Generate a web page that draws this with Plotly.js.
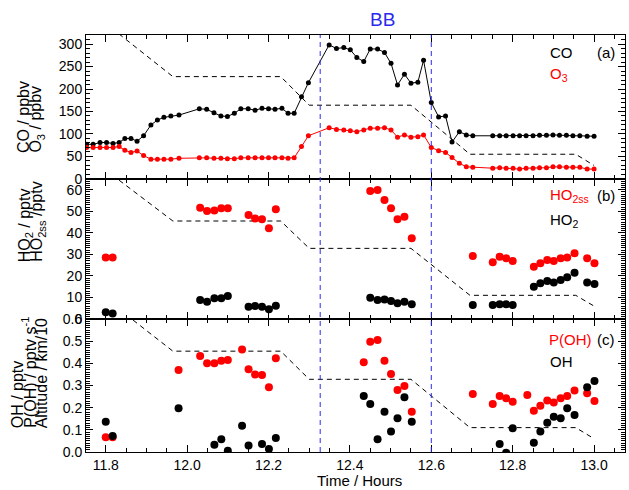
<!DOCTYPE html>
<html>
<head>
<meta charset="utf-8">
<script src="https://cdn.plot.ly/plotly-3.0.1.min.js"></script>
<style>html,body{margin:0;padding:0;background:#fff;}#chart{width:629px;height:490px;}</style>
</head>
<body>
<div id="chart"></div>
<script>
// ---- Panel (a): CO and O3 (ppbv) ----
const co_time = [11.753, 11.769, 11.786, 11.802, 11.818, 11.833, 11.847, 11.862, 11.877, 11.893, 11.911, 11.927, 11.943, 11.960, 11.980,
  12.030, 12.048, 12.066, 12.083, 12.099, 12.116, 12.132, 12.150, 12.167, 12.184, 12.200, 12.216, 12.233, 12.248, 12.263, 12.281, 12.298,
  12.349, 12.367, 12.385, 12.401, 12.417, 12.434, 12.450, 12.468, 12.485, 12.501, 12.517, 12.534, 12.550, 12.567, 12.581, 12.600, 12.618, 12.635, 12.651, 12.669, 12.686, 12.702,
  12.751, 12.768, 12.784, 12.801, 12.817, 12.833, 12.850, 12.866, 12.883, 12.899, 12.915, 12.932, 12.948, 12.965, 12.983, 13.000];
const co = [77, 77, 81, 81, 79, 81, 90, 90, 84, 96, 120, 131, 137, 140, 142,
  156, 155, 147, 140, 139, 146, 156, 156, 153, 157, 156, 155, 157, 146, 146, 183, 214,
  298, 290, 292, 287, 270, 261, 289, 289, 281, 257, 209, 233, 213, 215, 264, 170, 138, 140, 82, 105, 98, 96,
  96, 96, 96, 96, 96, 96, 96, 97, 97, 98, 97, 97, 96, 96, 95, 95];
const o3 = [70, 70, 70, 70, 70, 72, 64, 59, 62, 52, 44, 44, 44, 44, 46,
  47, 47, 46, 46, 45, 45, 47, 47, 47, 47, 47, 47, 47, 46, 47, 72, 96,
  114, 110, 109, 107, 105, 109, 113, 113, 114, 109, 93, 98, 93, 94, 98, 70, 63, 59, 48, 35, 27, 26,
  24, 25, 24, 24, 22, 24, 24, 25, 25, 27, 27, 26, 26, 26, 22, 22];

// ---- Panel (b): HO2ss and HO2 (pptv) ----
const ho2_time = [11.800, 11.817, 12.032, 12.049, 12.067, 12.084, 12.100, 12.151, 12.167, 12.184, 12.201, 12.218,
  12.450, 12.468, 12.485, 12.501, 12.517, 12.534, 12.552, 12.702, 12.751, 12.768, 12.784, 12.800,
  12.852, 12.868, 12.885, 12.901, 12.918, 12.934, 12.952, 12.983, 13.001];
const ho2ss = [28.6, 28.6, 51.7, 50.1, 50.4, 51.4, 51.4, 48.3, 46.7, 46.3, 42.1, 50.9,
  59.4, 59.9, 55.2, 51.4, 46.3, 47.5, 37.5, 29.2, 26.3, 28.9, 28.2, 26.9,
  24.3, 25.9, 27.4, 26.9, 28.2, 28.6, 30.5, 28.2, 25.9];
const ho2 = [3.1, 2.6, 8.8, 8.0, 9.6, 9.6, 10.7, 5.7, 6.0, 5.7, 4.5, 6.2,
  9.9, 8.8, 9.1, 8.4, 7.3, 8.0, 6.8, 6.5, 6.5, 6.8, 6.8, 6.5,
  15.0, 16.6, 17.6, 16.9, 18.1, 19.4, 21.5, 16.9, 16.3];

// ---- Panel (c): P(OH) (pptv s-1) and OH (pptv) ----
const poh_time = [11.800, 11.817, 11.979, 12.032, 12.049, 12.067, 12.084, 12.100, 12.135, 12.151, 12.167, 12.184, 12.201, 12.218,
  12.434, 12.450, 12.468, 12.485, 12.501, 12.517, 12.534, 12.552, 12.702, 12.751, 12.768, 12.784, 12.800,
  12.836, 12.852, 12.868, 12.885, 12.901, 12.918, 12.934, 12.952, 12.983, 13.001];
const poh = [0.066, 0.066, 0.370, 0.433, 0.400, 0.400, 0.412, 0.415, 0.463, 0.373, 0.350, 0.347, 0.292, 0.423,
  0.405, 0.498, 0.505, 0.412, 0.352, 0.280, 0.298, 0.182, 0.262, 0.217, 0.253, 0.242, 0.227,
  0.257, 0.186, 0.209, 0.232, 0.223, 0.242, 0.253, 0.277, 0.265, 0.230];
const oh_time = [11.800, 11.817, 11.979, 12.067, 12.084, 12.100, 12.135, 12.151, 12.184, 12.201, 12.218,
  12.434, 12.450, 12.468, 12.485, 12.501, 12.517, 12.534, 12.552, 12.768, 12.784, 12.800,
  12.852, 12.868, 12.885, 12.901, 12.918, 12.934, 12.952, 12.983, 13.001];
const oh = [0.137, 0.072, 0.197, 0.033, 0.057, 0.006, 0.119, 0.029, 0.036, 0.014, 0.063,
  0.253, 0.217, 0.057, 0.182, 0.092, 0.152, 0.247, 0.137, 0.036, -0.003, 0.107,
  0.042, 0.092, 0.132, 0.159, 0.152, 0.197, 0.167, 0.292, 0.320];

// ---- Altitude (km/10), drawn in every panel with the panel's scale ----
const alt_time = [11.78, 11.965, 12.23, 12.30, 12.55, 12.695, 12.955, 13.0];
const alt = [0.72, 0.455, 0.455, 0.328, 0.328, 0.11, 0.11, 0.06];
const alt_scale_a = 500, alt_scale_b = 100, alt_scale_c = 1;

// ---- Biomass-burning period boundaries ----
const bb_start = 12.327, bb_end = 12.600;

// ---- Tick spacing ----
const x_tick0 = 11.8, x_dtick = 0.2, x_minor = 0.05;
const ya_dtick = 50, ya_minor = 10;
const yb_dtick = 10, yb_minor = 1;
const yc_dtick = 0.1, yc_minor = 0.01;

const RED = '#ff0000', BLACK = '#000000', BLUE = '#2a2aee';
const FONT = 'Liberation Sans, Arial, Helvetica, sans-serif';

const altLine = {color: BLACK, width: 1, dash: '5px,4px'};
const traces = [
  {x: alt_time, y: alt.map(v => v * alt_scale_a), xaxis: 'x', yaxis: 'y', mode: 'lines', line: altLine},
  {x: co_time, y: co, xaxis: 'x', yaxis: 'y', mode: 'lines+markers', line: {color: BLACK, width: 1}, marker: {color: BLACK, size: 5}},
  {x: co_time, y: o3, xaxis: 'x', yaxis: 'y', mode: 'lines+markers', line: {color: RED, width: 1}, marker: {color: RED, size: 5}},
  {x: alt_time, y: alt.map(v => v * alt_scale_b), xaxis: 'x2', yaxis: 'y2', mode: 'lines', line: altLine},
  {x: ho2_time, y: ho2ss, xaxis: 'x2', yaxis: 'y2', mode: 'markers', marker: {color: RED, size: 8}},
  {x: ho2_time, y: ho2, xaxis: 'x2', yaxis: 'y2', mode: 'markers', marker: {color: BLACK, size: 8}},
  {x: alt_time, y: alt.map(v => v * alt_scale_c), xaxis: 'x3', yaxis: 'y3', mode: 'lines', line: altLine},
  {x: poh_time, y: poh, xaxis: 'x3', yaxis: 'y3', mode: 'markers', marker: {color: RED, size: 8}},
  {x: oh_time, y: oh, xaxis: 'x3', yaxis: 'y3', mode: 'markers', marker: {color: BLACK, size: 8}}
];

const xr = [11.7515, 13.076];
function xax(anchor, labels) {
  return {
    anchor: anchor, range: xr, tickmode: 'linear', tick0: x_tick0, dtick: x_dtick, tickformat: '.1f',
    showticklabels: labels, ticks: 'inside', ticklen: 7, tickwidth: 1, tickcolor: BLACK,
    showline: true, linecolor: BLACK, linewidth: 1, mirror: 'ticks', showgrid: false, zeroline: false,
    minor: {tickmode: 'linear', dtick: x_minor, tick0: x_tick0, ticks: 'inside', ticklen: 4, tickwidth: 1, tickcolor: BLACK, showgrid: false},
    tickfont: {size: 14, color: BLACK, family: FONT}
  };
}
function yax(anchor, domain, range, dtick, minorDtick, fmt) {
  return {
    anchor: anchor, domain: domain, range: range, tickmode: 'linear', tick0: 0, dtick: dtick, tickformat: fmt,
    ticks: 'inside', ticklen: 7, tickwidth: 1, tickcolor: BLACK,
    showline: true, linecolor: BLACK, linewidth: 1, mirror: 'ticks', showgrid: false, zeroline: false,
    minor: {tickmode: 'linear', dtick: minorDtick, tick0: 0, ticks: 'inside', ticklen: 4, tickwidth: 1, tickcolor: BLACK, showgrid: false},
    tickfont: {size: 14, color: BLACK, family: FONT}
  };
}

const dA = [0.6547, 1], dB = [0.3189, 0.6547], dC = [0, 0.3189];

function vt(text, xpx, ybot) {
  return {text: text, xref: 'paper', yref: 'paper', x: 0, y: ybot, xanchor: 'center', yanchor: 'bottom',
    xshift: xpx - 86, textangle: -90, showarrow: false, font: {size: 16, color: BLACK, family: FONT}};
}
function lt(text, x, y, color) {
  return {text: text, xref: 'paper', yref: 'paper', x: x, y: y, xanchor: 'left', yanchor: 'middle',
    showarrow: false, font: {size: 15, color: color, family: FONT}};
}

const annotations = [
  {text: 'BB', xref: 'paper', yref: 'paper', x: 0.551, y: 1.036, xanchor: 'center', yanchor: 'middle', showarrow: false,
   font: {size: 19, color: BLUE, family: FONT}},
  vt('CO / ppbv', 23, 0.712),
  vt('O<sub>3</sub> / ppbv', 37, 0.712),
  vt('HO<sub>2</sub> / pptv', 25, 0.45),
  vt('HO<sub>2ss</sub> /pptv', 38, 0.45),
  vt('OH / pptv', 17, 0.052),
  vt('P(OH) / pptv s<sup>-1</sup>', 29, 0.052),
  vt('Altitude / km/10', 41, 0.052),
  lt('CO', 0.857, 0.959, BLACK),
  lt('O<sub>3</sub>', 0.857, 0.906, RED),
  lt('(a)', 0.944, 0.959, BLACK),
  lt('HO<sub>2ss</sub>', 0.857, 0.616, RED),
  lt('HO<sub>2</sub>', 0.857, 0.556, BLACK),
  lt('(b)', 0.944, 0.616, BLACK),
  lt('P(OH)', 0.855, 0.269, RED),
  lt('OH', 0.857, 0.216, BLACK),
  lt('(c)', 0.944, 0.269, BLACK),
  {text: 'Time / Hours', xref: 'paper', yref: 'paper', x: 0.508, y: -0.0695, xanchor: 'center', yanchor: 'middle',
   showarrow: false, font: {size: 15, color: BLACK, family: FONT}}
];

const shapes = [bb_start, bb_end].map(t => ({
  type: 'line', xref: 'x', yref: 'paper', x0: t, x1: t, y0: 0, y1: 1,
  line: {color: BLUE, width: 1, dash: '5px,4px'}, layer: 'above'
}));

const layout = {
  width: 629, height: 490,
  margin: {l: 86, r: 4, t: 35, b: 38, pad: 0},
  paper_bgcolor: '#ffffff', plot_bgcolor: '#ffffff',
  showlegend: false,
  font: {family: FONT, size: 14, color: BLACK},
  xaxis: xax('y', false),
  xaxis2: xax('y2', false),
  xaxis3: xax('y3', true),
  yaxis: yax('x', dA, [0, 320], ya_dtick, ya_minor, 'd'),
  yaxis2: yax('x2', dB, [0, 65], yb_dtick, yb_minor, 'd'),
  yaxis3: yax('x3', dC, [0, 0.6], yc_dtick, yc_minor, '.1f'),
  annotations: annotations,
  shapes: shapes
};

Plotly.newPlot('chart', traces, layout, {displayModeBar: false, staticPlot: true});
</script>
</body>
</html>
